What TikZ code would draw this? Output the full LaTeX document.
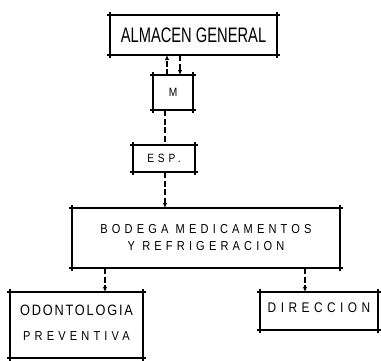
\documentclass[tikz,border=0pt]{standalone}
\usepackage{fontspec}
\usepackage{tikz}
\usetikzlibrary{arrows.meta,positioning,calc}
\newfontfamily\handtitle[FakeStretch=0.7]{Liberation Sans}
\newfontfamily\handwide[FakeStretch=0.85,LetterSpace=32]{Liberation Sans}
\newfontfamily\handnarrow[FakeStretch=0.85,LetterSpace=12]{Liberation Sans}

\begin{document}
\begin{tikzpicture}[
  x=1pt, y=-1pt,
  box/.style={inner sep=0pt, outer sep=0pt, align=center},
  edge/.style={line width=1.1pt},
  link/.style={line width=1.1pt, dash pattern=on 6pt off 2.5pt},
  tip/.style={-{Latex[length=5pt,width=4.5pt]}},
]
\useasboundingbox (0,0) rectangle (381,360);
% boxes
\node[box, minimum width=167pt, minimum height=40pt,
  font={\handtitle\fontsize{21}{23}\selectfont}] (almacen) at (193.5,35)
  {ALMACEN GENERAL};
\node[box, minimum width=40pt, minimum height=35pt,
  font={\handnarrow\fontsize{12}{14}\selectfont}] (m) at (173,92.5) {M};
\node[box, minimum width=62pt, minimum height=27pt,
  font={\handwide\fontsize{12}{14}\selectfont}] (esp) at (164,158.5) {ESP.};
\node[box, minimum width=268pt, minimum height=60pt,
  font={\handwide\fontsize{13}{17}\selectfont}] (bodega) at (206,238)
  {\raisebox{-2pt}{BODEGA MEDICAMENTOS}\\ \raisebox{-2pt}{Y REFRIGERACION}};
\node[box, minimum width=133pt, minimum height=66pt,
  font={\handnarrow\fontsize{15}{27}\selectfont}] (odonto) at (76.5,325)
  {\raisebox{4pt}{ODONTOLOGIA}\\[-2pt]
   \handwide\fontsize{13}{16}\selectfont\raisebox{4pt}{PREVENTIVA}};
\node[box, minimum width=118pt, minimum height=38pt,
  font={\handwide\fontsize{14}{16}\selectfont}] (direccion) at (319,311)
  {\raisebox{7pt}{DIRECCION}};
% sides drawn past the corners
\foreach \n in {almacen,m,esp,bodega,odonto,direccion} {
  \draw[edge] ([xshift=-3pt]\n.north west) -- ([xshift=3pt]\n.north east);
  \draw[edge] ([xshift=-3pt]\n.south west) -- ([xshift=3pt]\n.south east);
  \draw[edge] ([yshift=3pt]\n.north west) -- ([yshift=-3pt]\n.south west);
  \draw[edge] ([yshift=3pt]\n.north east) -- ([yshift=-3pt]\n.south east);
}
% connectors
\draw[link, tip] ([xshift=-6pt]m.north) -- ([xshift=-6pt]m.north |- almacen.south);
\draw[link, tip] ([xshift=7pt]m.north |- almacen.south) -- ([xshift=7pt]m.north);
\draw[link] ([xshift=-8pt]m.south) -- ([xshift=-8pt]m.south |- esp.north);
\draw[link, tip] ([xshift=1pt]esp.south) -- ([xshift=1pt]esp.south |- bodega.north);
\draw[link, tip] ([xshift=28.5pt]odonto.north |- bodega.south) -- ([xshift=28.5pt]odonto.north);
\draw[link, tip] ([xshift=-14pt]direccion.north |- bodega.south) -- ([xshift=-14pt]direccion.north);
\end{tikzpicture}
\end{document}
